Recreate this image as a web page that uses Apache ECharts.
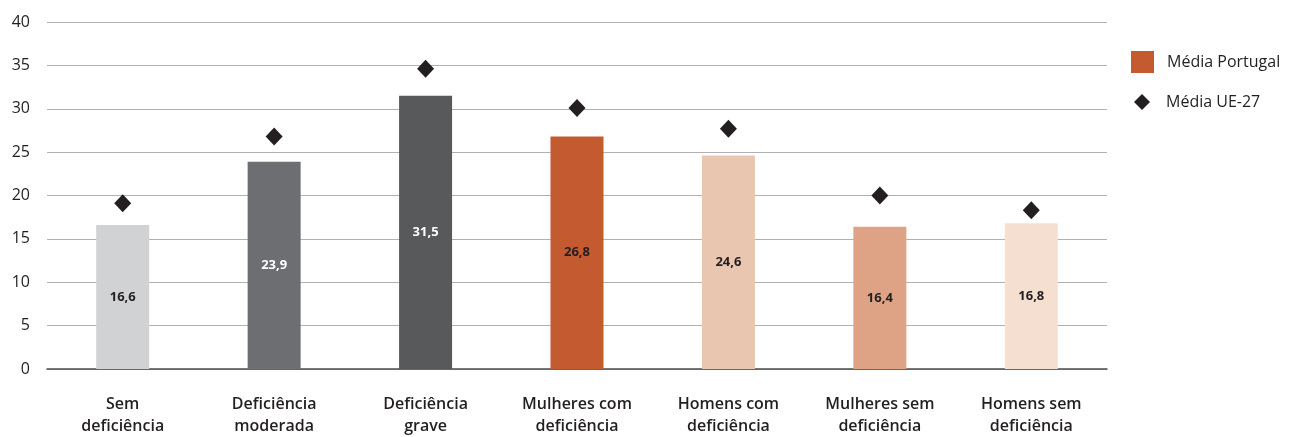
<!DOCTYPE html>
<html>
<head>
<meta charset="utf-8">
<script src="https://cdn.jsdelivr.net/npm/echarts@6/dist/echarts.min.js"></script>
<style>
  html, body { margin: 0; padding: 0; background: #fff; }
  #chart { width: 1301px; height: 437px; }
</style>
</head>
<body>
<div id="chart"></div>
<script>
// categories and values
const categories = [
  'Sem\ndeficiência',
  'Deficiência\nmoderada',
  'Deficiência\ngrave',
  'Mulheres com\ndeficiência',
  'Homens com\ndeficiência',
  'Mulheres sem\ndeficiência',
  'Homens sem\ndeficiência'
]
const portugalValues = [16.6, 23.9, 31.5, 26.8, 24.6, 16.4, 16.8]
const euValues = [19.1, 26.8, 34.6, 30.1, 27.7, 20.0, 18.3]
const barColors = ['#d1d2d4', '#6d6e71', '#58595b', '#c35a30', '#e9c6af', '#dea384', '#f5dfd1']
const labelColors = ['#231f20', '#ffffff', '#ffffff', '#231f20', '#231f20', '#231f20', '#231f20']
const yTicks = [0, 5, 10, 15, 20, 25, 30, 35, 40]

const font = '"Open Sans", "Noto Sans", sans-serif'
const textColor = '#231f20'

const chart = echarts.init(document.getElementById('chart'))

chart.setOption({
  animation: false,
  textStyle: { fontFamily: font },
  grid: { left: 47, right: 194, top: 22, bottom: 67 },
  legend: [
    {
      data: ['Média Portugal'],
      orient: 'vertical',
      left: 1126,
      top: 46,
      itemWidth: 23,
      itemHeight: 22,
      icon: 'rect',
      textStyle: { fontFamily: font, fontSize: 16, color: textColor, padding: [0, 0, 0, 8] }
    },
    {
      data: ['Média UE-27'],
      orient: 'vertical',
      left: 1129,
      top: 89,
      itemWidth: 16,
      itemHeight: 16,
      icon: 'diamond',
      textStyle: { fontFamily: font, fontSize: 16, color: textColor, padding: [0, 0, 0, 11] }
    }
  ],
  xAxis: {
    type: 'category',
    data: categories,
    axisLine: { lineStyle: { color: '#4d4d4f', width: 1.5 } },
    axisTick: { show: false },
    axisLabel: {
      interval: 0,
      margin: 24,
      fontFamily: font,
      fontSize: 16,
      fontWeight: 600,
      color: textColor,
      lineHeight: 22
    }
  },
  yAxis: {
    type: 'value',
    min: 0,
    max: 40,
    interval: 5,
    axisLine: { show: false },
    axisTick: { show: false },
    splitLine: { lineStyle: { color: '#b1b1b3', width: 1 } },
    axisLabel: {
      margin: 17,
      fontFamily: font,
      fontSize: 16,
      color: textColor,
      formatter: v => yTicks.includes(v) ? String(v) : ''
    }
  },
  series: [
    {
      name: 'Média Portugal',
      type: 'bar',
      barWidth: 53,
      itemStyle: { color: '#c35a30' },
      data: portugalValues.map((v, i) => ({
        value: v,
        itemStyle: { color: barColors[i] },
        label: { color: labelColors[i] }
      })),
      label: {
        show: true,
        position: 'inside',
        fontFamily: font,
        fontSize: 13,
        fontWeight: 'bold',
        formatter: p => String(p.value).replace('.', ',')
      }
    },
    {
      name: 'Média UE-27',
      type: 'scatter',
      symbol: 'diamond',
      symbolSize: [17, 18],
      itemStyle: { color: '#231f20', opacity: 1 },
      data: euValues
    }
  ]
})
</script>
</body>
</html>
